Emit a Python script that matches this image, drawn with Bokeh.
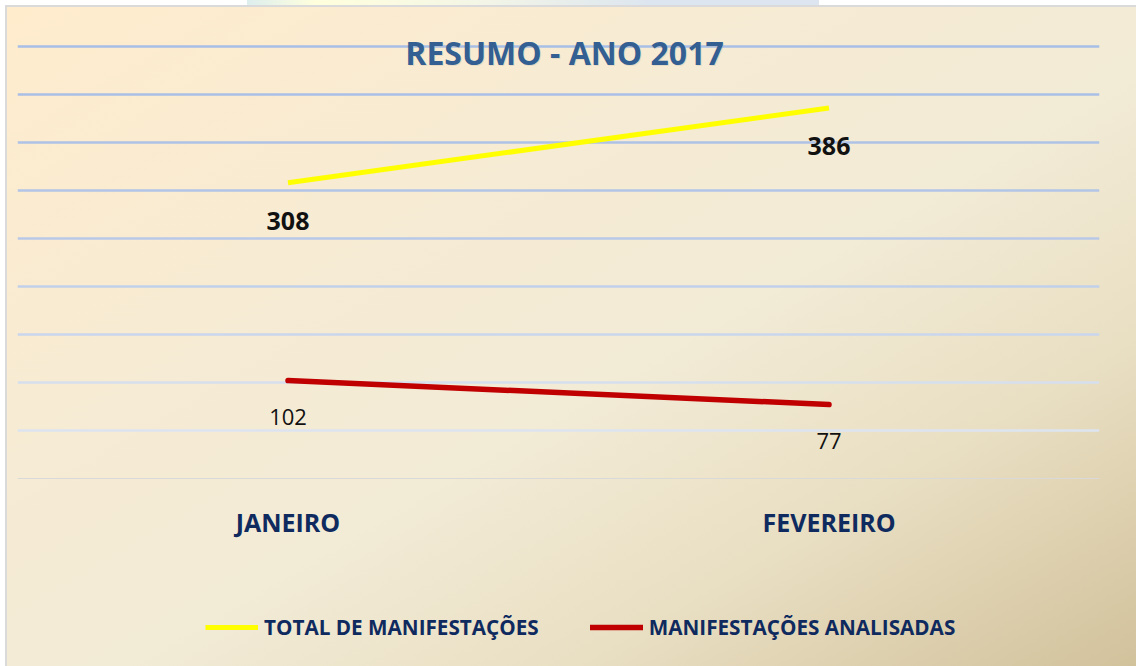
from bokeh.plotting import figure
from bokeh.models import (FactorRange, Range1d, Grid, FixedTicker, Legend,
                          LegendItem, ColumnDataSource, Label)
from bokeh.core.properties import value
from bokeh.embed import file_html
from bokeh.resources import INLINE

# ---- data ----
months = ["JANEIRO", "FEVEREIRO"]
total_manifestacoes = [308, 386]
manifestacoes_analisadas = [102, 77]
grid_values = [50, 100, 150, 200, 250, 300, 350, 400, 450]
series_names = ["TOTAL DE MANIFESTAÇÕES", "MANIFESTAÇÕES ANALISADAS"]
chart_title = "RESUMO - ANO 2017"

FONT = "Open Sans"
NAVY = "#0F2A5E"

src = ColumnDataSource(dict(
    month=months,
    total=total_manifestacoes,
    total_lbl=[str(v) for v in total_manifestacoes],
    anal=manifestacoes_analisadas,
    anal_lbl=[str(v) for v in manifestacoes_analisadas],
))

# frame spans y = 7 .. 666 px; value 0 sits at 478 px, 0.96 px per unit
p = figure(width=1136, height=666, x_range=FactorRange(*months),
           y_range=Range1d(-195.83, 490.625), output_backend="svg",
           toolbar_location=None, y_axis_location=None,
           min_border_left=17, min_border_right=37,
           min_border_top=7, min_border_bottom=0)
p.background_fill_color = None
p.border_fill_color = None
p.outline_line_color = None
p.styles = {
    "background": (
        "linear-gradient(to bottom right, #FFECCD 0%, #F6EBD4 35%, #F2EBD6 55%, #E9DFC3 75%, #D2C29C 100%) 7px 7px / calc(100% - 7px) calc(100% - 7px) no-repeat, "
        "linear-gradient(#DADADA, #DADADA) 5px 5px / 100% 100% no-repeat, "
        "linear-gradient(to right, #DDEEEE 0%, #FFFFDD 12%, #F4F6E6 40%, #DDE6F0 70%, #DDE6F0 100%) 247px 0px / 572px 6px no-repeat, "
        "#FFFFFF"
    )
}

for g in p.grid:
    g.visible = False

grid_colors = ["#DDE4F0", "#D6DFEE", "#C9D6EC", "#C0D0EA", "#B8C9E8",
               "#B2C5E7", "#AEC2E6", "#AABFE6", "#A7BEE6"]
for v, c in zip(grid_values, grid_colors):
    p.add_layout(Grid(dimension=1, ticker=FixedTicker(ticks=[v]),
                      grid_line_color=c, grid_line_width=2.5), "center")

ax = p.xaxis[0]
ax.fixed_location = 0
ax.axis_line_color = "#D9D9D9"
ax.axis_line_width = 1
ax.major_tick_line_color = None
ax.minor_tick_line_color = None
ax.major_label_text_font = FONT
ax.major_label_text_font_style = "bold"
ax.major_label_text_font_size = "25px"
ax.major_label_text_color = NAVY
ax.major_label_standoff = 20

r_total = p.line("month", "total", source=src, line_color="#FFFF00",
                 line_width=5)
r_anal = p.line("month", "anal", source=src, line_color="#C00000",
                line_width=5.5, line_cap="round")

p.text("month", "total", text="total_lbl", source=src, y_offset=38,
       text_align="center", text_baseline="middle",
       text_font=value(FONT), text_font_style="bold",
       text_font_size="25px", text_color="#111111")
p.text("month", "anal", text="anal_lbl", source=src, y_offset=36,
       text_align="center", text_baseline="middle",
       text_font=value(FONT), text_font_style="normal",
       text_font_size="22px", text_color="#111111")

# title (inside the chart area, over the top grid line)
p.add_layout(Label(x=548, y=613, x_units="screen", y_units="screen",
                   text=chart_title, text_align="center",
                   text_baseline="middle", text_font=FONT,
                   text_font_style="bold", text_font_size="32px",
                   text_color="#B9B4A6", text_alpha=0.3))
p.add_layout(Label(x=547, y=614, x_units="screen", y_units="screen",
                   text=chart_title, text_align="center",
                   text_baseline="middle", text_font=FONT,
                   text_font_style="bold", text_font_size="32px",
                   text_color="#335F92"))

legend = Legend(items=[LegendItem(label=series_names[0], renderers=[r_total]),
                       LegendItem(label=series_names[1], renderers=[r_anal])],
                orientation="horizontal", location=(188, 25),
                background_fill_alpha=0, border_line_color=None,
                label_text_font=FONT, label_text_font_style="bold",
                label_text_font_size="20.7px", label_text_color=NAVY,
                glyph_width=53, glyph_height=20, label_standoff=6,
                spacing=51, padding=0, margin=0)
p.add_layout(legend, "center")

open("out.html", "w").write(file_html(p, INLINE))
